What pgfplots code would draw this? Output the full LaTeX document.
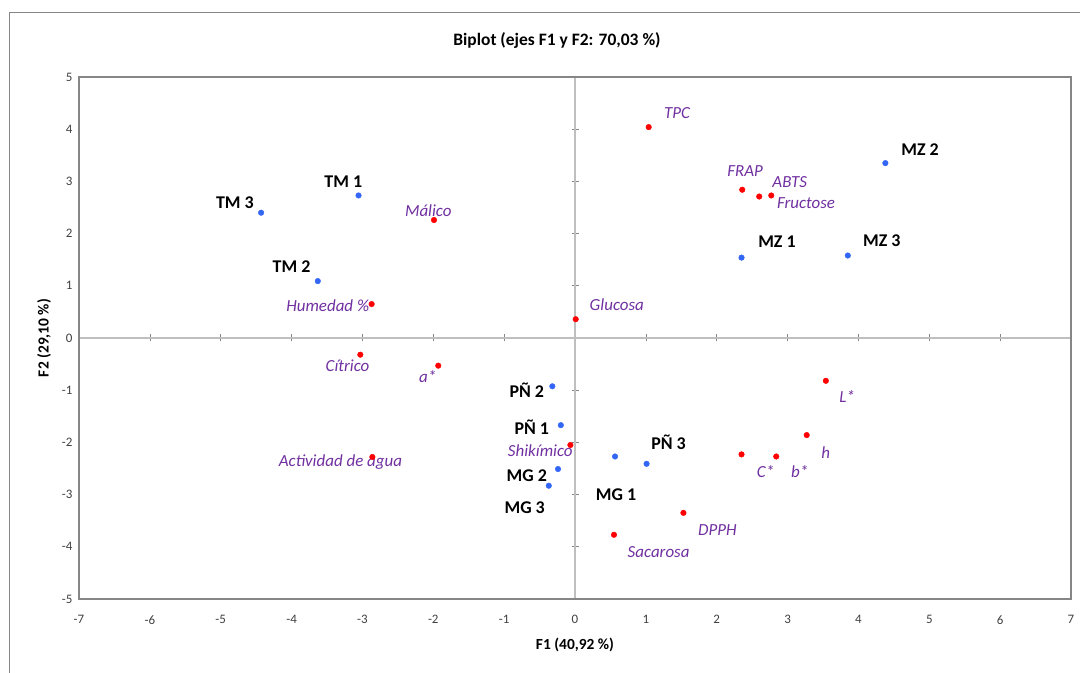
\documentclass[border=0pt]{standalone}
\usepackage{pgfplots}
\pgfplotsset{compat=1.18}
\usepackage{fontspec}
\setmainfont{Carlito}

\definecolor{obsblue}{HTML}{3366F5}
\definecolor{varred}{HTML}{FF0000}
\definecolor{varpurple}{HTML}{7030A0}
\definecolor{framegray}{HTML}{868686}
\definecolor{zerogray}{HTML}{BFBFBF}
\definecolor{ticktext}{HTML}{404040}

% observaciones (F1, F2)
\pgfplotstableread{
x y
-4.43 2.40
-3.055 2.73
-3.63 1.09
4.38 3.35
2.35 1.54
3.85 1.58
-0.32 -0.925
-0.20 -1.67
1.01 -2.41
0.565 -2.27
-0.24 -2.51
-0.37 -2.83
}\obs

% variables (F1, F2)
\pgfplotstableread{
x y
1.04 4.04
2.36 2.84
2.60 2.71
2.77 2.73
-1.99 2.26
-2.87 0.65
0.01 0.36
-3.03 -0.32
-1.93 -0.53
-0.065 -2.05
-2.86 -2.28
3.54 -0.82
3.27 -1.86
2.35 -2.23
2.84 -2.27
1.53 -3.35
0.55 -3.77
}\vars

\begin{document}
\begin{tikzpicture}[x=1bp,y=1bp]
\useasboundingbox (0,0) rectangle (1080,673);
\draw[framegray,line width=0.8bp] (9,0) -- (9,661) -- (1080,661);

% zero lines with crossing ticks
\begin{axis}[
    at={(79bp,74bp)}, anchor=south west,
    scale only axis, width=992bp, height=522bp,
    xmin=-7, xmax=7, ymin=-5, ymax=5,
    axis lines=middle,
    axis line style={-, zerogray, line width=1.2bp},
    xtick={-7,...,7}, ytick={-5,...,5},
    xticklabels={}, yticklabels={},
    tick align=center, major tick length=7bp,
    tick style={framegray, line width=0.6bp},
]
\end{axis}

\begin{axis}[
    at={(79bp,74bp)}, anchor=south west,
    scale only axis, width=992bp, height=522bp,
    xmin=-7, xmax=7, ymin=-5, ymax=5,
    axis line style={framegray, line width=1.2bp},
    xtick={-7,...,7}, ytick={-5,...,5},
    major tick length=0pt,
    /pgf/number format/assume math mode=true,
    ticklabel style={font=\fontsize{13}{15}\selectfont, text=ticktext},
    xticklabel style={yshift=-13bp},
    yticklabel style={xshift=-3bp},
    clip=false,
]
\addplot[only marks, mark=*, mark size=2.8bp, obsblue] table {\obs};
\addplot[only marks, mark=*, mark size=2.8bp, varred] table {\vars};

\begin{scope}[every node/.style={font=\fontsize{18}{20}\selectfont\bfseries, text=black}]
\node at (axis cs:-4.80,2.59) {TM 3};
\node at (axis cs:-3.27,2.99) {TM 1};
\node at (axis cs:-4.00,1.36) {TM 2};
\node at (axis cs:4.87,3.60) {MZ 2};
\node at (axis cs:2.85,1.84) {MZ 1};
\node at (axis cs:4.33,1.86) {MZ 3};
\node at (axis cs:-0.68,-1.00) {PÑ 2};
\node at (axis cs:-0.61,-1.70) {PÑ 1};
\node at (axis cs:1.32,-2.00) {PÑ 3};
\node at (axis cs:0.58,-3.00) {MG 1};
\node at (axis cs:-0.68,-2.64) {MG 2};
\node at (axis cs:-0.71,-3.26) {MG 3};
\end{scope}

\begin{scope}[every node/.style={font=\fontsize{17}{19}\selectfont\itshape, text=varpurple}]
\node at (axis cs:1.44,4.31) {TPC};
\node at (axis cs:2.40,3.20) {FRAP};
\node at (axis cs:3.03,2.99) {ABTS};
\node at (axis cs:3.26,2.59) {Fructose};
\node at (axis cs:-2.07,2.43) {Málico};
\node at (axis cs:-3.49,0.61) {Humedad \%};
\node at (axis cs:0.59,0.63) {Glucosa};
\node at (axis cs:-3.21,-0.54) {Cítrico};
\node at (axis cs:-2.08,-0.73) {a*};
\node at (axis cs:-0.49,-2.16) {Shikímico};
\node at (axis cs:-3.31,-2.38) {Actividad de agua};
\node at (axis cs:3.84,-1.13) {L*};
\node at (axis cs:3.54,-2.20) {h};
\node at (axis cs:2.69,-2.55) {C*};
\node at (axis cs:3.17,-2.55) {b*};
\node at (axis cs:2.01,-3.68) {DPPH};
\node at (axis cs:1.18,-4.10) {Sacarosa};
\end{scope}
\end{axis}

\node[font=\fontsize{17.5}{19}\selectfont\bfseries] at (557,632) {Biplot (ejes F1 y F2: 70,03 \%)};
\node[font=\fontsize{15.5}{17}\selectfont\bfseries] at (575,28) {F1 (40,92 \%)};
\node[font=\fontsize{15.5}{17}\selectfont\bfseries, rotate=90] at (44,335) {F2 (29,10 \%)};
\end{tikzpicture}
\end{document}
